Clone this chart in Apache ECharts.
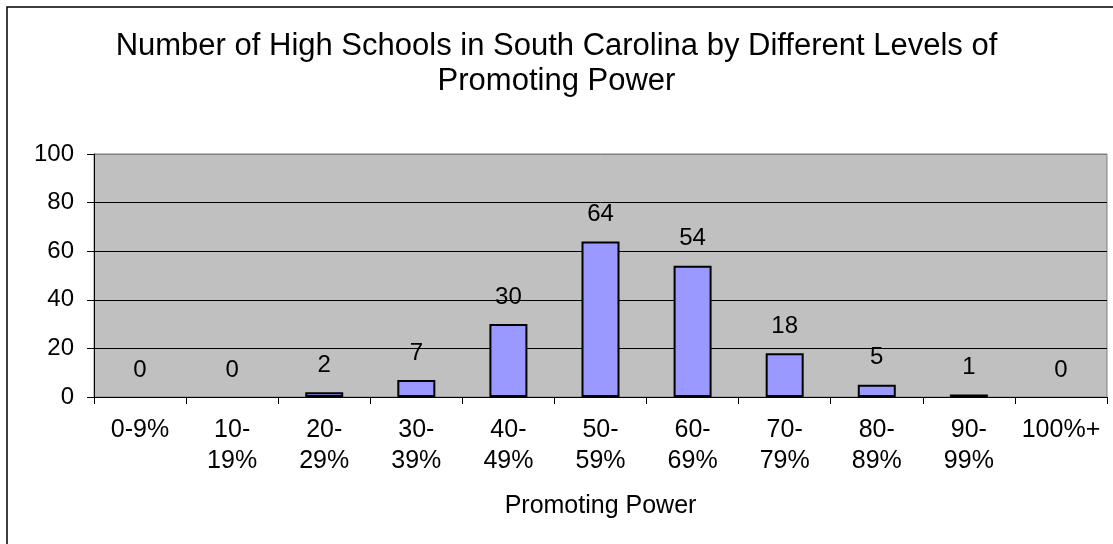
<!DOCTYPE html>
<html>
<head>
<meta charset="utf-8">
<script src="https://cdn.jsdelivr.net/npm/echarts@6/dist/echarts.min.js"></script>
<style>html,body{margin:0;padding:0;background:#fff}#c{width:1113px;height:544px}</style>
</head>
<body>
<div id="c"></div>
<script>
const categories = ['0-9%', '10-\n19%', '20-\n29%', '30-\n39%', '40-\n49%', '50-\n59%', '60-\n69%', '70-\n79%', '80-\n89%', '90-\n99%', '100%+'];
const values = [0, 0, 2, 7, 30, 64, 54, 18, 5, 1, 0];
const yTicks = { min: 0, max: 100, interval: 20 };
const titleText = 'Number of High Schools in South Carolina by Different Levels of\nPromoting Power';
const xName = 'Promoting Power';

const FONT = '"Liberation Sans", Arial, sans-serif';
const barData = values.map(v => v === 0 ? { value: v, itemStyle: { borderWidth: 0, opacity: 0 } } : v);
const chart = echarts.init(document.getElementById('c'), null, { renderer: 'canvas' });
chart.setOption({
  animation: false,
  backgroundColor: '#ffffff',
  textStyle: { fontFamily: FONT },
  title: {
    text: titleText,
    left: 'center',
    top: 24,
    textStyle: { fontFamily: FONT, fontSize: 31, fontWeight: 'normal', color: '#000', lineHeight: 35 }
  },
  graphic: [{
    type: 'rect',
    shape: { x: 7, y: 7, width: 1130, height: 560 },
    style: { fill: 'none', stroke: '#000', lineWidth: 1.5 },
    silent: true, z: 100
  }],
  grid: {
    left: 94, right: 6, top: 154, bottom: 147,
    show: true, backgroundColor: '#c0c0c0', borderColor: '#808080', borderWidth: 1
  },
  xAxis: {
    type: 'category',
    data: categories,
    name: xName,
    nameLocation: 'middle',
    nameGap: 97,
    nameTextStyle: { fontFamily: FONT, fontSize: 25, color: '#000' },
    axisLine: { lineStyle: { color: '#000', width: 1 } },
    axisTick: { show: true, alignWithLabel: false, length: 7, lineStyle: { color: '#000' } },
    axisLabel: { interval: 0, fontFamily: FONT, fontSize: 25, color: '#000', lineHeight: 31, margin: 18 },
    splitLine: { show: false }
  },
  yAxis: {
    type: 'value',
    min: yTicks.min, max: yTicks.max, interval: yTicks.interval,
    axisLine: { show: true, lineStyle: { color: '#000', width: 1 } },
    axisTick: { show: true, length: 7, lineStyle: { color: '#000' } },
    axisLabel: { fontFamily: FONT, fontSize: 24, color: '#000', margin: 20 },
    splitLine: { show: true, lineStyle: { color: ['#000', '#000', '#000', '#000', '#000', '#808080'], width: 1 } }
  },
  series: [{
    type: 'bar',
    data: barData,
    barWidth: 38,
    itemStyle: { color: '#9999ff', borderColor: '#000', borderWidth: 2 },
    label: { show: true, position: 'top', distance: 15, fontFamily: FONT, fontSize: 24, color: '#000', opacity: 1 }
  }]
});
</script>
</body>
</html>
